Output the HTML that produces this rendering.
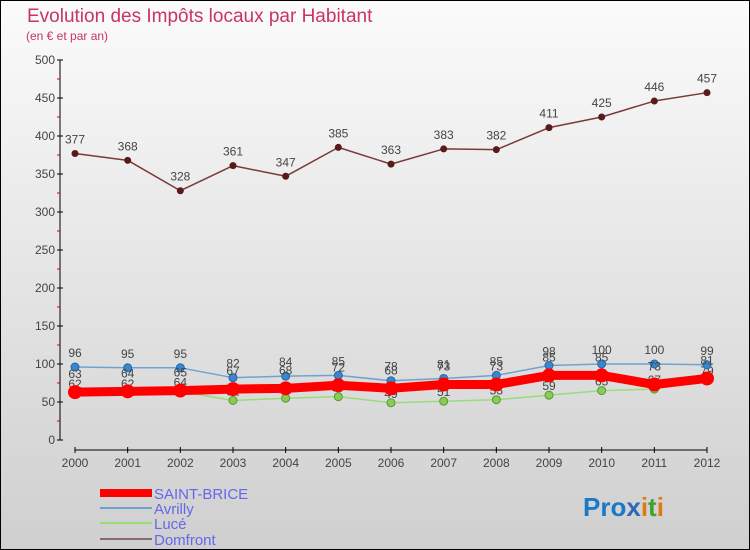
<!DOCTYPE html>
<html><head><meta charset="utf-8"><style>
body{margin:0}
svg{display:block;font-family:"Liberation Sans",sans-serif}
</style></head><body>
<svg id="c" width="750" height="550" xmlns="http://www.w3.org/2000/svg">
<defs><linearGradient id="bg" x1="0" y1="0" x2="0" y2="1"><stop offset="0" stop-color="#fbfbfb"/><stop offset="1" stop-color="#cfcfcf"/></linearGradient></defs>
<rect x="0.5" y="0.5" width="749" height="549" fill="url(#bg)" stroke="#000"/>
<text x="27" y="22" font-size="19" fill="#c8336a">Evolution des Impôts locaux par Habitant</text>
<text x="26" y="40" font-size="12" fill="#c8336a">(en € et par an)</text>
<g id="axes"></g><g id="series"></g>
<g>
<rect x="100" y="489" width="52" height="8" fill="#f00"/>
<text x="154" y="499" font-size="15" fill="#6666ee">SAINT-BRICE</text>
<rect x="100" y="507" width="52" height="2" fill="#6fa3cf"/>
<text x="154" y="514" font-size="15" fill="#6666ee">Avrilly</text>
<rect x="100" y="522" width="52" height="2" fill="#99dd77"/>
<text x="154" y="529" font-size="15" fill="#6666ee">Lucé</text>
<rect x="100" y="538" width="52" height="2" fill="#8a6a6a"/>
<text x="154" y="545" font-size="15" fill="#6666ee">Domfront</text>
</g>
<g font-size="26" font-weight="bold">
<text x="583" y="516"><tspan fill="#1a7ac8">Pro</tspan><tspan fill="#2a6ab8">x</tspan><tspan fill="#e07a10">i</tspan><tspan fill="#40a030">t</tspan><tspan fill="#e07a10">i</tspan></text>
</g>
</svg>
<script>
const years=[2000,2001,2002,2003,2004,2005,2006,2007,2008,2009,2010,2011,2012];
const saintBrice=[63,64,65,67,68,72,68,73,73,85,85,73,81];
const avrilly=[96,95,95,82,84,85,78,81,85,98,100,100,99];
const luce=[62,62,64,52,55,57,49,51,53,59,65,67,79];
const domfront=[377,368,328,361,347,385,363,383,382,411,425,446,457];
const yTicks=[0,50,100,150,200,250,300,350,400,450,500];
const NS="http://www.w3.org/2000/svg";
const x=i=>75+i*(707-75)/(years.length-1);
const y=v=>440-v*0.76;
function mk(t,a,p){const e=document.createElementNS(NS,t);for(const k in a)e.setAttribute(k,a[k]);p.appendChild(e);return e;}
const ax=document.getElementById('axes');
let e=mk('line',{x1:60,y1:60,x2:60,y2:440,stroke:'#000'},ax);

e=mk('line',{x1:75,y1:450,x2:707,y2:450,stroke:'#000'},ax);

yTicks.forEach((v,i)=>{
 mk('line',{x1:57,y1:y(v),x2:63,y2:y(v),stroke:'#000'},ax);
 if(i<yTicks.length-1) mk('line',{x1:57,y1:y(v+25),x2:60,y2:y(v+25),stroke:'#d00'},ax);
 const t=mk('text',{x:55,y:y(v)+4,'text-anchor':'end','font-size':12,fill:'#444'},ax);t.textContent=v;
 
});
years.forEach((yr,i)=>{
 mk('line',{x1:x(i),y1:447,x2:x(i),y2:453,stroke:'#000'},ax);
 const t=mk('text',{x:x(i),y:467,'text-anchor':'middle','font-size':12,fill:'#444'},ax);t.textContent=yr;
 
});
const sg=document.getElementById('series');
function series(d,name,col,w,r,fill,stroke,labOff){
 const g=mk('g',{},sg);
 
 const p=mk('polyline',{points:d.map((v,i)=>x(i)+','+y(v)).join(' '),fill:'none',stroke:col,'stroke-width':w,'stroke-linejoin':'round'},g);
 
 d.forEach((v,i)=>{
  const c=mk('circle',{cx:x(i),cy:y(v),r:r,fill:fill,stroke:stroke,'stroke-width':stroke=='none'?0:1},g);
  
  const t=mk('text',{x:x(i),y:y(v)+labOff,'text-anchor':'middle','font-size':12,fill:'#444'},g);t.textContent=v;
  
 });
}
series(luce,'luce','#99dd77',1.5,4,'#88cc55','#559933',-5);
series(avrilly,'avrilly','#6fa3cf',1.5,4,'#3a88cc','#2266aa',-10);
series(domfront,'domfront','#7a3a3a',1.5,3.5,'#5a1a1a','none',-10);
series(saintBrice,'saint-brice','#ff0000',9,7,'#ff0000','none',-14);
</script>
</body></html>
